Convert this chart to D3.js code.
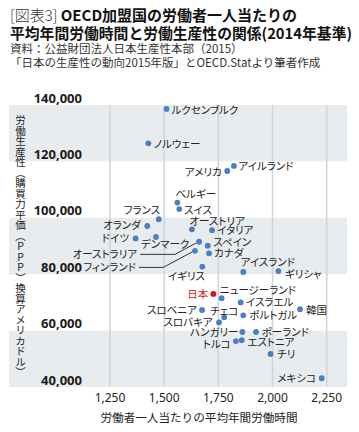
<!DOCTYPE html>
<html><head><meta charset="utf-8">
<script src="https://cdn.jsdelivr.net/npm/d3@7"></script>
<style>
html,body{margin:0;padding:0;background:#fff;}
#wrap{position:relative;width:359px;height:432px;}
svg{display:block;position:absolute;left:0;top:0;}
text{font-family:"Noto Sans CJK JP","Noto Sans",sans-serif;}
#ytitle{position:absolute;writing-mode:vertical-rl;text-orientation:upright;
 font-family:"Noto Sans CJK JP",sans-serif;font-size:10.5px;line-height:12px;color:#222;white-space:nowrap;}
</style></head>
<body>
<div id="wrap">
<svg id="chart" width="359" height="432"></svg>
</div>
<script>
// ---- data ----
const countries = ["ルクセンブルク","ノルウェー","アメリカ","アイルランド","ベルギー","スイス","フランス","オランダ","ドイツ","デンマーク","オーストリア","イタリア","スペイン","カナダ","オーストラリア","フィンランド","イギリス","アイスランド","ギリシャ","日本","ニュージーランド","イスラエル","韓国","スロベニア","チェコ","ポルトガル","スロバキア","ハンガリー","ポーランド","トルコ","エストニア","チリ","メキシコ"];
const hours = [1511,1427,1791,1822,1561,1570,1475,1422,1368,1462,1628,1721,1701,1707,1661,1642,1676,1865,2027,1727,1765,1853,2127,1675,1777,1865,1753,1861,1924,1831,1858,1991,2227];
const productivity = [138600,126400,116600,118400,105400,103100,99500,97100,92700,93200,95900,95600,90100,87400,91500,88300,82700,80800,81100,73000,71500,70000,67600,67300,64700,65400,62900,59500,59500,56300,56600,51700,43100];
const xTicks = [1250,1500,1750,2000,2250];
const yTicks = [40000,60000,80000,100000,120000,140000];
const highlight = "日本";

// ---- label layout (dx, dy from dot, anchor) ----
const labelLayout = {
 "ルクセンブルク":[5,1,"start"],"ノルウェー":[5.5,0.5,"start"],"アメリカ":[-5.5,1,"end"],"アイルランド":[4.5,0.5,"start"],
 "ベルギー":[-2,-8,"start"],"スイス":[4.7,1,"start"],"フランス":[1.5,-8.5,"end"],"オランダ":[-6.5,-1,"end"],
 "ドイツ":[-6.5,0,"end"],"デンマーク":[-15,7.5,"start"],"オーストリア":[-2.5,-8,"start"],"イタリア":[5,0.5,"start"],
 "スペイン":[5.5,-3,"start"],"カナダ":[5,-0.5,"start"],"イギリス":[2.7,9.3,"end"],"アイスランド":[-2.6,-9.7,"start"],
 "ギリシャ":[6.5,3,"start"],"日本":[-5,0,"end"],"ニュージーランド":[-1.7,-8.3,"start"],"イスラエル":[5.3,0,"start"],
 "韓国":[6,0.7,"start"],"スロベニア":[-5.3,0.7,"end"],"チェコ":[0,-6.5,"middle"],"ポルトガル":[6,0,"start"],
 "スロバキア":[-6.3,0,"end"],"ハンガリー":[-4,0.3,"end"],"ポーランド":[5.7,0.3,"start"],"トルコ":[-5.3,3,"end"],
 "エストニア":[5.6,2.4,"start"],"チリ":[6.6,0,"start"],"メキシコ":[-5.7,0,"end"]
};
// leader-line labels: text end position relative to dot and elbow x offset
const leaderLayout = {
 "オーストラリア":{tx:-62,ty:12.6,elbowDx:-24},
 "フィンランド":{tx:-59,ty:16.6,elbowDx:-31.7}
};

const svg = d3.select("#chart");
const x = d3.scaleLinear().domain([1250,2250]).range([110,326.7]);
const y = d3.scaleLinear().domain([40000,140000]).range([387,105]);
const bandLeft = 9, bandRight = 347;

// bands
const bandPairs = [[120000,140000],[80000,100000],[40000,60000]];
svg.append("g").selectAll("rect").data(bandPairs).join("rect")
 .attr("x",bandLeft).attr("width",bandRight-bandLeft)
 .attr("y",d=>y(d[1])).attr("height",d=>y(d[0])-y(d[1]))
 .attr("fill","#e9ecef");

// vertical grid
svg.append("g").selectAll("line").data(xTicks).join("line")
 .attr("x1",d=>x(d)).attr("x2",d=>x(d)).attr("y1",y(140000)).attr("y2",y(40000))
 .attr("stroke","#cfd5db").attr("stroke-width",1.5);

// y tick labels
svg.append("g").selectAll("text").data(yTicks).join("text")
 .attr("x",82).attr("y",d=>y(d)-2.5).attr("text-anchor","end")
 .style("font-family","'Noto Sans',sans-serif").style("font-weight","700").style("font-size","13px").attr("fill","#1a1a1a")
 .text(d=>d3.format(",")(d));

// x tick labels
svg.append("g").selectAll("text").data(xTicks).join("text")
 .attr("x",d=>x(d)).attr("y",401.5).attr("text-anchor","middle")
 .style("font-family","'Noto Sans',sans-serif").style("font-size","12px").attr("fill","#222")
 .text(d=>d3.format(",")(d));

// axis titles
svg.append("text").attr("x",199).attr("y",421.5).attr("text-anchor","middle")
 .style("font-size","11.6px").attr("fill","#222").text("労働者一人当たりの平均年間労働時間");
d3.select("#wrap").append("div").attr("id","ytitle")
 .style("left","14px").style("top","115px")
 .text("労働生産性（購買力平価（PPP）換算アメリカドル）");

// title
const t1 = svg.append("text").attr("x",10).attr("y",20.5).style("font-size","15px").attr("fill","#111");
t1.append("tspan").style("font-weight","300").attr("fill","#333").text("[図表3] ");
t1.append("tspan").style("font-weight","700").text("OECD加盟国の労働者一人当たりの");
svg.append("text").attr("x",10).attr("y",38.5).style("font-size","14.8px").style("font-weight","700").attr("fill","#111")
 .text("平均年間労働時間と労働生産性の関係(2014年基準)");
svg.append("text").attr("x",10).attr("y",53).style("font-size","11.5px").attr("fill","#333")
 .text("資料：公益財団法人日本生産性本部（2015）");
svg.append("text").attr("x",10).attr("y",67).style("font-size","11.5px").attr("fill","#333")
 .text("「日本の生産性の動向2015年版」とOECD.Statより筆者作成");

const pts = countries.map((c,i)=>({name:c,h:hours[i],p:productivity[i]}));

// leader lines
const lg = svg.append("g");
pts.filter(d=>leaderLayout[d.name]).forEach(d=>{
 const L = leaderLayout[d.name];
 const cx = x(d.h), cy = y(d.p);
 const tx = cx+L.tx, ty = cy+L.ty;
 lg.append("path").attr("d",`M${tx+3},${ty}H${cx+L.elbowDx}L${cx-2.5},${cy+1}`)
  .attr("fill","none").attr("stroke","#333").attr("stroke-width",1);
 lg.append("text").attr("x",tx).attr("y",ty).attr("dy","0.35em").attr("text-anchor","end")
  .style("font-size","10.5px").style("font-feature-settings","'palt' 1").attr("fill","#222").text(d.name);
});

// dots
svg.append("g").selectAll("circle").data(pts).join("circle")
 .attr("cx",d=>x(d.h)).attr("cy",d=>y(d.p)).attr("r",2.9)
 .attr("fill",d=>d.name===highlight?"#d7141e":"#4a7fc1");

// labels
svg.append("g").selectAll("text").data(pts.filter(d=>labelLayout[d.name])).join("text")
 .attr("x",d=>x(d.h)+labelLayout[d.name][0]).attr("y",d=>y(d.p)+labelLayout[d.name][1])
 .attr("dy","0.35em").attr("text-anchor",d=>labelLayout[d.name][2])
 .style("font-size","10.5px").style("font-feature-settings","'palt' 1")
 .attr("fill",d=>d.name===highlight?"#d7141e":"#222")
 .text(d=>d.name);
</script>
</body></html>
